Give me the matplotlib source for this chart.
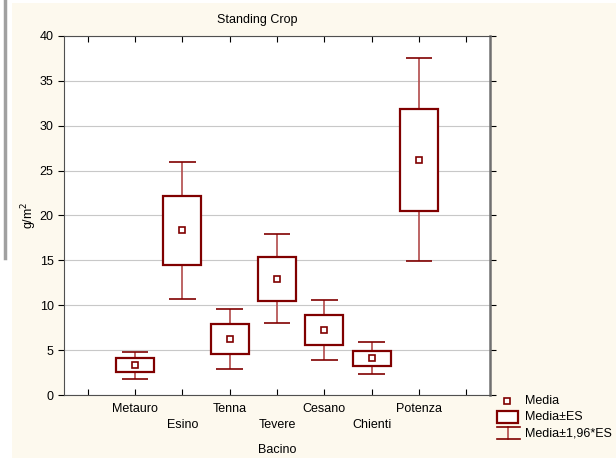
import matplotlib
matplotlib.use('Agg')
import matplotlib.pyplot as plt
from matplotlib.patches import Rectangle
from matplotlib.lines import Line2D

plt.rcParams['font.family'] = ['Liberation Sans', 'DejaVu Sans']

# dati
bacini = ['Metauro', 'Esino', 'Tenna', 'Tevere', 'Cesano', 'Chienti', 'Potenza']
media = [3.3, 18.4, 6.2, 12.9, 7.2, 4.1, 26.2]
es_sup = [4.1, 22.2, 7.9, 15.4, 8.9, 4.9, 31.9]
es_inf = [2.6, 14.5, 4.6, 10.5, 5.6, 3.2, 20.5]
ci_sup = [4.8, 26.0, 9.6, 17.9, 10.6, 5.9, 37.5]
ci_inf = [1.8, 10.7, 2.9, 8.0, 3.9, 2.3, 14.9]

dark = '#800000'
light = '#b24a4a'
cream = '#fdf9ee'
fs = 9

fig = plt.figure(figsize=(6.16, 4.62), dpi=100, facecolor='white')
fig.patches.append(Rectangle((12/616, 4/462), 1 - 12/616, 455/462,
                             transform=fig.transFigure, facecolor=cream,
                             edgecolor='none', zorder=-10))
fig.lines.append(Line2D([5/616, 5/616], [1, 1 - 258/462], transform=fig.transFigure,
                        color='#a0a0a0', linewidth=2.5))

ax = fig.add_axes([64/616, 67/462, 426/616, 359/462])
ax.set_facecolor('white')

pos = list(range(1, len(bacini) + 1))
for i, p in enumerate(pos):
    ax.vlines(p, es_sup[i], ci_sup[i], color=light, linewidth=1.2, zorder=2)
    ax.vlines(p, ci_inf[i], es_inf[i], color=light, linewidth=1.2, zorder=2)
    ax.hlines([ci_sup[i], ci_inf[i]], p - 0.28, p + 0.28, color=dark, linewidth=1.2, zorder=2)
ax.bar(pos, [h - l for h, l in zip(es_sup, es_inf)], bottom=es_inf, width=0.8,
       facecolor='white', edgecolor=dark, linewidth=1.6, zorder=3)
ax.plot(pos, media, linestyle='none', marker='s', markersize=5,
        markerfacecolor='white', markeredgecolor=dark, markeredgewidth=1.2, zorder=4)

ax.set_xlim(-0.5, 8.5)
ax.set_ylim(0, 40)
ax.set_yticks(range(0, 41, 5))
ax.yaxis.grid(True, color='#c8c8c8', linewidth=0.8)
ax.set_axisbelow(True)

labels = ['']
for i, b in enumerate(bacini):
    labels.append(b if i % 2 == 0 else '\n' + b)
labels.append('')
ax.set_xticks(range(0, 9))
ax.set_xticklabels(labels, fontsize=fs, linespacing=1.45)
ax.tick_params(axis='x', direction='in', length=4, top=True, pad=6)
ax.tick_params(axis='y', direction='out', length=4, labelsize=fs, right=True)
for side in ['left', 'bottom', 'top']:
    ax.spines[side].set_color('#505050')
ax.spines['right'].set_color('#707070')
ax.spines['right'].set_linewidth(1.8)

ax.set_ylabel('g/m$^2$', fontsize=fs)
ax.yaxis.set_label_coords(-25/426, 0.5)
fig.text(257/616, 1 - 20/462, 'Standing Crop', fontsize=fs, ha='center', va='center')
fig.text(277/616, 1 - 450/462, 'Bacino', fontsize=fs, ha='center', va='center')

# legenda
def fx(x):
    return x / 616

def fy(y):
    return 1 - y / 462

fig.lines.append(Line2D([fx(507)], [fy(401)], transform=fig.transFigure, linestyle='none',
                        marker='s', markersize=5, markerfacecolor='white',
                        markeredgecolor=dark, markeredgewidth=1.2))
fig.patches.append(Rectangle((fx(497), fy(423)), fx(21), 12/462, transform=fig.transFigure,
                             facecolor='white', edgecolor=dark, linewidth=1.6))
fig.lines.append(Line2D([fx(508), fx(508)], [fy(427), fy(439)], transform=fig.transFigure,
                        color=light, linewidth=1.2))
fig.lines.append(Line2D([fx(497), fx(520)], [fy(427), fy(427)], transform=fig.transFigure,
                        color=dark, linewidth=1.2))
fig.lines.append(Line2D([fx(497), fx(520)], [fy(439), fy(439)], transform=fig.transFigure,
                        color=dark, linewidth=1.2))
for ty, txt in [(401, 'Media'), (417, 'Media±ES'), (433, 'Media±1,96*ES')]:
    fig.text(fx(525), fy(ty), txt, fontsize=fs, ha='left', va='center')

fig.savefig('out.png', dpi=100, facecolor=fig.get_facecolor())
